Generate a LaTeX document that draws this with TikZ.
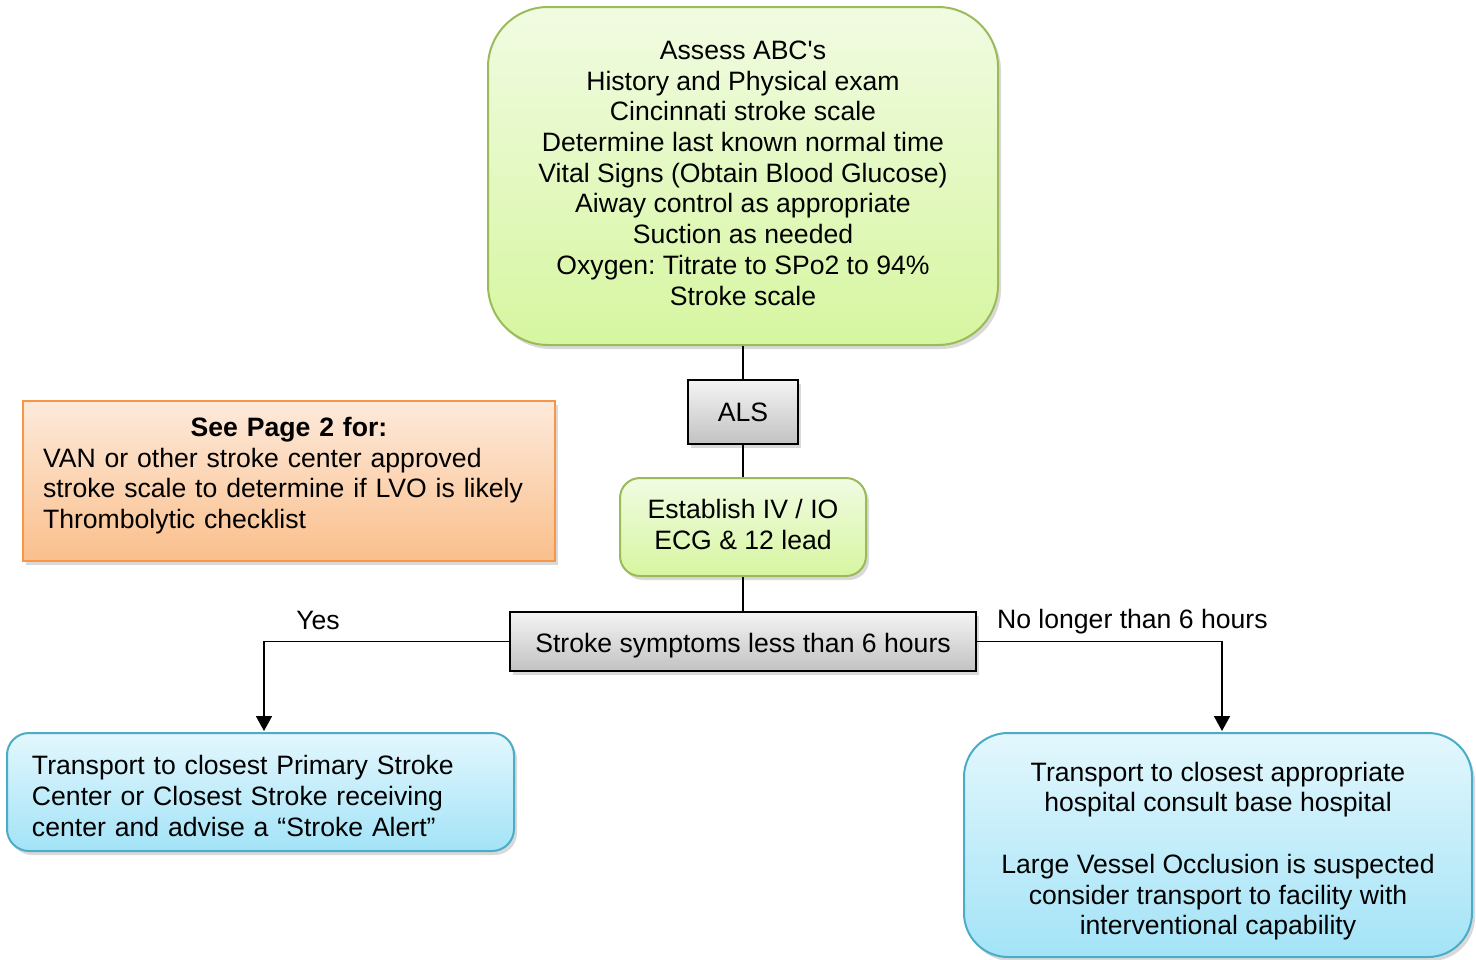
\documentclass[tikz,border=0pt]{standalone}
\usepackage{fontspec}
\setmainfont{Liberation Sans}[Ligatures=TeXOff]
\usetikzlibrary{arrows.meta,shadows}

\definecolor{grnline}{HTML}{9BBB59}
\definecolor{grntop}{HTML}{F1FBE2}
\definecolor{grnbot}{HTML}{D6F6A0}
\definecolor{orgline}{HTML}{F79646}
\definecolor{orgtop}{HTML}{FDEADB}
\definecolor{orgbot}{HTML}{FABF8C}
\definecolor{bluline}{HTML}{4BACC6}
\definecolor{blutop}{HTML}{E3F7FD}
\definecolor{blubot}{HTML}{A3E3F7}
\definecolor{grytop}{HTML}{F4F4F4}
\definecolor{grybot}{HTML}{C2C2C2}

% struts to nudge text inside a box
\newcommand{\upstrut}[1]{\rule{0pt}{#1}}
\newcommand{\dnstrut}[1]{\rule[-#1]{0pt}{#1}}

\begin{document}
\frenchspacing
\begin{tikzpicture}[
  x=0.5pt, y=-0.5pt,
  >={Triangle[width=8pt,length=7.5pt]},
  font=\fontsize{13.3}{15.35}\selectfont,
  shd/.style={drop shadow={opacity=0.3,shadow xshift=1.5pt,shadow yshift=-2pt}},
  greenbox/.style={shd,draw=grnline,line width=1pt,top color=grntop,bottom color=grnbot,align=center,inner sep=0},
  greybox/.style={shd,draw=black,line width=1pt,top color=grytop,bottom color=grybot,align=center,inner sep=0},
  orangebox/.style={shd,draw=orgline,line width=1pt,top color=orgtop,bottom color=orgbot,align=left,inner xsep=10pt,inner ysep=0},
  bluebox/.style={shd,draw=bluline,line width=1pt,top color=blutop,bottom color=blubot,inner ysep=0},
  conn/.style={line width=0.9pt},
]
  \useasboundingbox (0,0) rectangle (1476,959);

  \node[greenbox, rounded corners=30pt, minimum width=255pt, minimum height=169pt] (assess) at (743,176)
    {Assess ABC's\\History and Physical exam\\Cincinnati stroke scale\\Determine last known normal time\\
     Vital Signs (Obtain Blood Glucose)\\Aiway control as appropriate\\Suction as needed\\
     Oxygen: Titrate to SPo2 to 94\%\\Stroke scale\dnstrut{3pt}};
  \node[greybox, minimum width=55pt, minimum height=32pt] (als) at (743,412) {ALS};
  \node[greenbox, rounded corners=10pt, minimum width=123pt, minimum height=49pt] (iv) at (743,527)
    {Establish IV / IO\\ECG \& 12 lead\dnstrut{2.5pt}};
  \node[greybox, minimum width=233pt, minimum height=29.5pt] (onset) at (743,641.5)
    {\upstrut{13.7pt}Stroke symptoms less than 6 hours};

  \node[orangebox, minimum width=266pt, minimum height=80pt, text width=246pt] (page2) at (289,481)
    {\makebox[\linewidth]{\textbf{See Page 2 for:}}\\VAN or other stroke center approved\\
     stroke scale to determine if LVO is likely\\Thrombolytic checklist\dnstrut{8pt}};

  \node[bluebox, rounded corners=11pt, align=left, inner xsep=12.5pt, text width=228.5pt,
        minimum height=59pt] (primary) at (260.5,792)
    {\upstrut{13.7pt}Transport to closest Primary Stroke\\Center or Closest Stroke receiving\\center and advise a “Stroke Alert”};
  \node[bluebox, rounded corners=22pt, align=center, minimum width=254pt, minimum height=112pt] (base) at (1218,845)
    {\upstrut{15.7pt}Transport to closest appropriate\\hospital consult base hospital\\[15.35pt]
     Large Vessel Occlusion is suspected\\consider transport to facility with\\interventional capability};

  % chain down the middle
  \foreach \a/\b in {assess/als, als/iv, iv/onset}
    \draw[conn] (\a) -- (\b);

  % the two branches
  \coordinate (yesend) at (264,731);
  \coordinate (noend) at (1222,731);
  \draw[conn,->] (onset.west) -| (yesend);
  \draw[conn,->] (onset.east) -| (noend);
  \node (yes) at (318,620) {Yes};
  \node[anchor=west] (no) at (990,622) {No longer than 6 hours};
\end{tikzpicture}
\end{document}
